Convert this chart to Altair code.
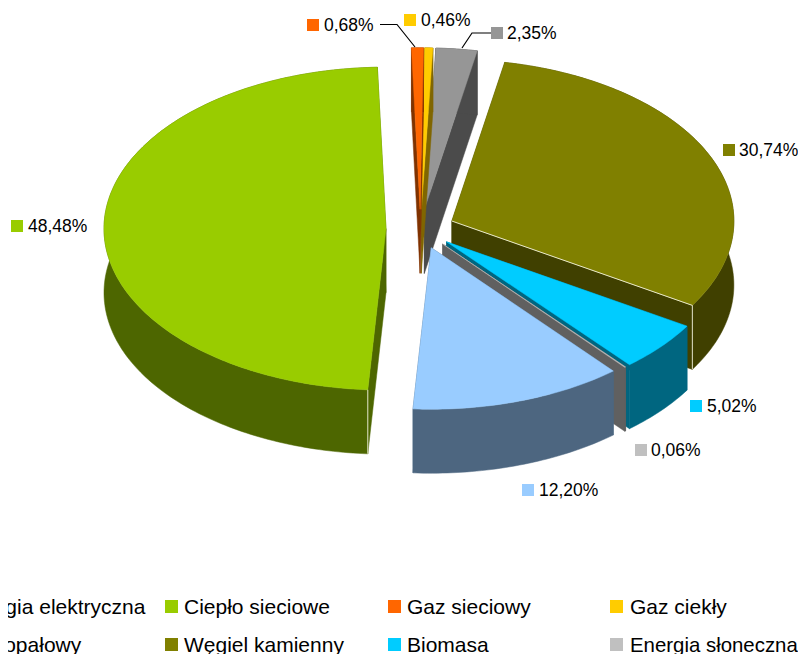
import math
import altair as alt
import pandas as pd

# ---- chart values -------------------------------------------------------
names = ["Ciepło sieciowe", "Gaz sieciowy", "Gaz ciekły", "Olej opałowy",
         "Węgiel kamienny", "Biomasa", "Energia słoneczna", "Drewno"]
shares = [48.48, 0.68, 0.46, 2.35, 30.74, 5.02, 0.06, 12.20]
labels = ["48,48%", "0,68%", "0,46%", "2,35%", "30,74%", "5,02%", "0,06%", "12,20%"]
top_colors = ["#99CC00", "#FF6600", "#FFCC00", "#969696", "#808000", "#00CCFF", "#C0C0C0", "#99CCFF"]
wall_colors = ["#4D6600", "#803300", "#806600", "#4B4B4B", "#404000", "#006680", "#606060", "#4D6680"]

legend_names = ["Energia elektryczna", "Ciepło sieciowe", "Gaz sieciowy", "Gaz ciekły",
                "Olej opałowy", "Węgiel kamienny", "Biomasa", "Energia słoneczna"]
legend_colors = ["#993366", "#99CC00", "#FF6600", "#FFCC00", "#969696", "#808000", "#00CCFF", "#C0C0C0"]
legend_sizes = [21, 21, 21, 21, 21, 21, 21, 20.4]

# ---- layout of the exploded pie (page pixels) ----------------------------
CX, CY = 420.4, 229.0      # pie centre
RX, RY = 282.0, 161.5      # radii of the tilted disc
EXPLODE = 0.122            # slice explosion, fraction of the radius
DEPTH = 64.0               # extrusion
FIRST_ANGLE = 183.7        # where the first slice starts, clockwise from north
paint_order = [0, 3, 2, 1, 4, 5, 6, 7]

label_pos = [(17, 226, 28), (313, 25, 324), (410, 20, 421), (497, 33, 507),
             (729, 150, 739), (696, 406, 707), (641, 450, 651), (528, 490, 539)]
leaders = [[(380, 24.5), (397, 24.5), (415, 47)], [(491, 33), (472, 33), (462, 48)]]

col_x = [-51.5, 171.5, 394.5, 616.5]
col_tx = [-39, 184, 407, 630]
row_y = [606.5, 644.5]

PLOT_W, PLOT_H = 790, 646

# ---- derive the polygons from the shares ---------------------------------
total = sum(shares)
spans = []
a = FIRST_ANGLE
for s in shares:
    b = a + s / total * 360.0
    spans.append((a, b))
    a = b


def pt(c, ang, dy=0.0):
    t = math.radians(ang)
    return (c[0] + RX * math.sin(t), c[1] - RY * math.cos(t) + dy)


def arc(c, a0, a1, dy=0.0):
    n = max(2, int(abs(a1 - a0)) + 2)
    return [pt(c, a0 + (a1 - a0) * k / (n - 1), dy) for k in range(n)]


rows = []
glints = []
pid = 0


def add(points, color, stroke):
    global pid
    closed = points + [points[0]]
    for k, (x, y) in enumerate(closed):
        rows.append({"poly": pid, "seq": k, "x": x, "y": y, "fill": color, "edge": stroke})
    pid += 1


for i in paint_order:
    a0, a1 = spans[i]
    mid = math.radians((a0 + a1) / 2)
    c = (CX + EXPLODE * RX * math.sin(mid), CY - EXPLODE * RY * math.cos(mid))
    wall = wall_colors[i]
    down = (c[0], c[1] + DEPTH)
    add([c, pt(c, a0), pt(c, a0, DEPTH), down], wall, wall)
    add([c, pt(c, a1), pt(c, a1, DEPTH), down], wall, wall)
    add(arc(c, a0, a1) + arc(c, a1, a0, DEPTH), wall, wall)
    add([c] + arc(c, a0, a1), top_colors[i], top_colors[i])
    # pale highlight on the near corner of the two big slices
    if i == 4:
        for k, p in enumerate([c, pt(c, a1), pt(c, a1, DEPTH)]):
            glints.append({"id": i, "seq": k, "x": p[0], "y": p[1]})
    if i == 0:
        for k, p in enumerate([pt(c, a0), pt(c, a0, DEPTH)]):
            glints.append({"id": i, "seq": k, "x": p[0], "y": p[1]})

polys = pd.DataFrame(rows)

sx = alt.Scale(domain=[8, 8 + PLOT_W])
sy = alt.Scale(domain=[8 + PLOT_H, 8])
xs = alt.X("x:Q", scale=sx, axis=None)
ys = alt.Y("y:Q", scale=sy, axis=None)

pie = alt.Chart(polys).mark_line(strokeWidth=0.5, interpolate="linear").encode(
    x=xs, y=ys,
    detail="poly:N",
    order="seq:Q",
    fill=alt.Fill("fill:N", scale=None),
    stroke=alt.Stroke("edge:N", scale=None),
)

glint = alt.Chart(pd.DataFrame(glints)).mark_line(color="#F4F4E0", strokeWidth=0.9).encode(
    x=xs, y=ys, detail="id:N", order="seq:Q")

lead_rows = [{"id": i, "seq": k, "x": p[0], "y": p[1]} for i, l in enumerate(leaders) for k, p in enumerate(l)]
lead = alt.Chart(pd.DataFrame(lead_rows)).mark_line(color="#000000", strokeWidth=1.2).encode(
    x=xs, y=ys, detail="id:N", order="seq:Q")

lab = pd.DataFrame({"mx": [p[0] for p in label_pos], "my": [p[1] for p in label_pos],
                    "tx": [p[2] for p in label_pos], "text": labels, "color": top_colors})
lab["ty"] = lab["my"] + 6
lab_sq = alt.Chart(lab).mark_square(size=144, opacity=1).encode(
    x=alt.X("mx:Q", scale=sx, axis=None), y=alt.Y("my:Q", scale=sy, axis=None),
    color=alt.Color("color:N", scale=None))
lab_tx = alt.Chart(lab).mark_text(align="left", baseline="alphabetic", font="Liberation Sans",
                                  fontSize=17.5, color="#000000").encode(
    x=alt.X("tx:Q", scale=sx, axis=None), y=alt.Y("ty:Q", scale=sy, axis=None), text="text:N")

leg_rows = []
for i, (n, col) in enumerate(zip(legend_names, legend_colors)):
    leg_rows.append({"mx": col_x[i % 4], "tx": col_tx[i % 4], "my": row_y[i // 4],
                     "ty": row_y[i // 4] + 7.5, "text": n, "color": col, "fs": legend_sizes[i]})
leg = pd.DataFrame(leg_rows)
leg_sq = alt.Chart(leg).mark_square(size=169, opacity=1).encode(
    x=alt.X("mx:Q", scale=sx, axis=None), y=alt.Y("my:Q", scale=sy, axis=None),
    color=alt.Color("color:N", scale=None))
leg_tx = alt.Chart(leg).mark_text(align="left", baseline="alphabetic", font="Liberation Sans",
                                  color="#000000").encode(
    x=alt.X("tx:Q", scale=sx, axis=None), y=alt.Y("ty:Q", scale=sy, axis=None), text="text:N",
    size=alt.Size("fs:Q", scale=None))

chart = alt.layer(pie, glint, lead, lab_sq, lab_tx, leg_sq, leg_tx).properties(
    width=PLOT_W, height=PLOT_H, padding=0,
    autosize=alt.AutoSizeParams(type="none"), background="#FFFFFF",
).configure_view(stroke=None)

chart.save("out.html", embed_options={"renderer": "svg", "actions": False})
